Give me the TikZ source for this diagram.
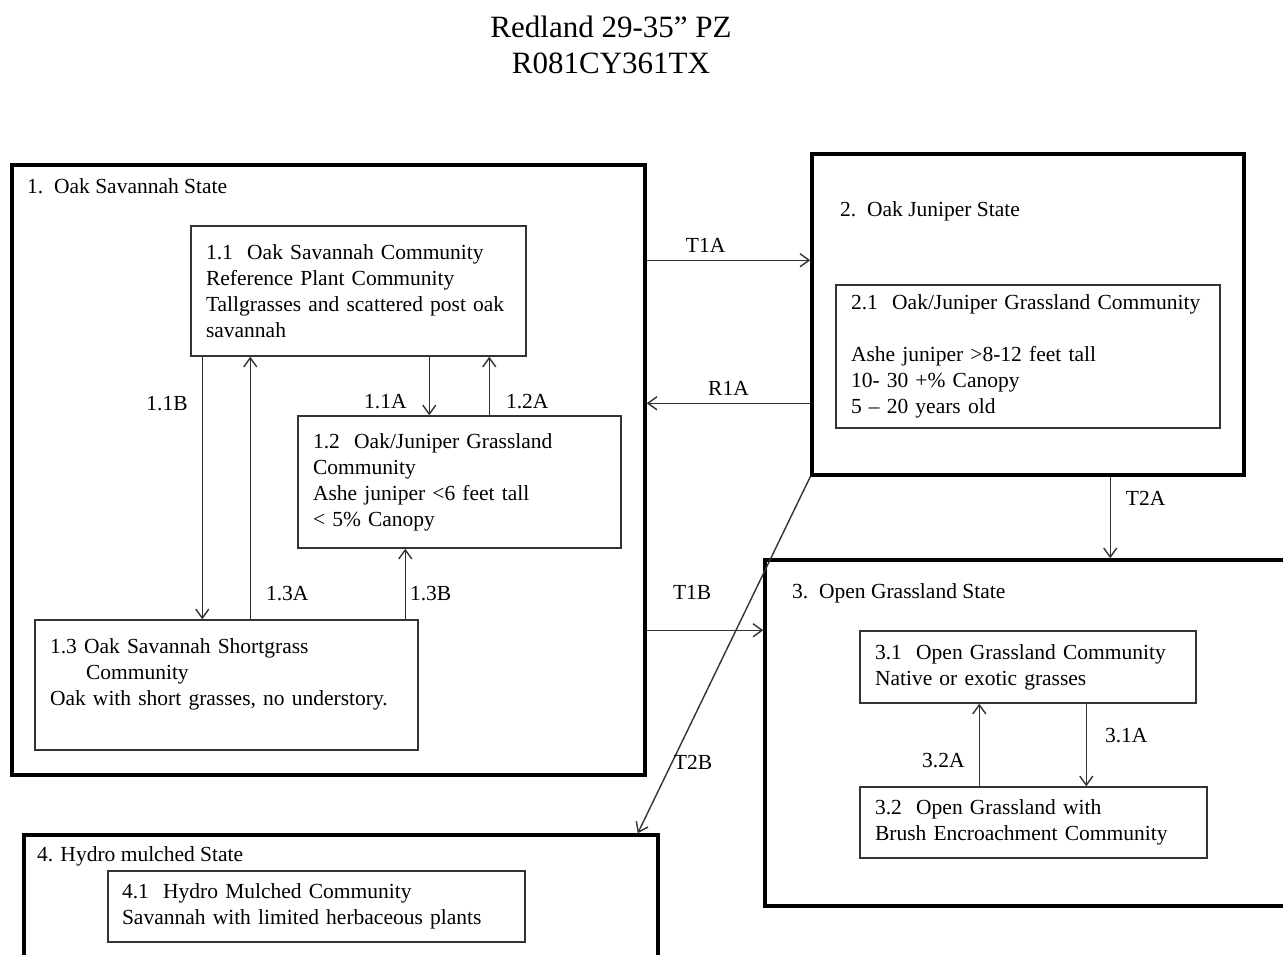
\documentclass[tikz,border=0pt]{standalone}
\usepackage{fontspec}
\setmainfont{Liberation Serif}
\usetikzlibrary{positioning,arrows.meta}
\tikzset{
  statebox/.style={draw=black, line width=3.5pt, inner sep=0pt},
  commbox/.style={draw=black!80, line width=1.4pt, align=left, inner xsep=15pt, inner ysep=0pt, font=\fontsize{21.5}{26}\selectfont},
  statetitle/.style={anchor=west, inner sep=0pt, font=\fontsize{21.5}{26}\selectfont},
  arrow/.style={-{Straight Barb[length=9pt,width=13pt]}, line width=1.4pt, draw=black!80},
  plabel/.style={inner sep=0pt, font=\fontsize{21.5}{26}\selectfont}
}
\begin{document}
\begin{tikzpicture}[x=1pt, y=-1pt]
  \useasboundingbox (0,0) rectangle (1283,954);
  \node[align=center, font=\fontsize{31}{36}\selectfont] (title) at (611,45) {Redland 29-35'' PZ\\R081CY361TX};
  % states
  \node[statebox, minimum width=633pt, minimum height=610pt] (s1) at (328.5,470) {};
  \node[statebox, minimum width=432pt, minimum height=321pt] (s2) at (1028,314.5) {};
  \node[statebox, minimum width=535pt, minimum height=346pt] (s3) at (1032.5,733) {};
  \node[statebox, minimum width=634pt, minimum height=140pt] (s4) at (341,905) {};
  \node[statetitle] (s1t) at (27,186) {1.~~Oak Savannah State};
  \node[statetitle] (s2t) at (840,211) {2.~~Oak Juniper State};
  \node[statetitle] (s3t) at (792,593) {3.~~Open Grassland State};
  \node[statetitle] (s4t) at (37,856) {4. Hydro mulched State};
  % communities
  \node[commbox, text width=305pt, minimum height=130pt] (c11) at (358.5,291) {1.1~~Oak Savannah Community\\Reference Plant Community\\Tallgrasses and scattered post oak\\savannah};
  \node[commbox, text width=293pt, minimum height=132pt] (c12) at (459.5,482) {1.2~~Oak/Juniper Grassland\\Community\\Ashe juniper <6 feet tall\\< 5\% Canopy};
  \node[commbox, text width=353pt, minimum height=130pt] (c13) at (226.5,685) {1.3 Oak Savannah Shortgrass\\\hspace*{36pt}Community\\Oak with short grasses, no understory.\\~};
  \node[commbox, text width=354pt, minimum height=143pt] (c21) at (1028,356.5) {2.1~~Oak/Juniper Grassland Community\\[26pt]Ashe juniper >8-12 feet tall\\10- 30 +\% Canopy\\5 -- 20 years old};
  \node[commbox, text width=306pt, minimum height=72pt] (c31) at (1028,667) {3.1~~Open Grassland Community\\Native or exotic grasses};
  \node[commbox, text width=317pt, minimum height=71pt] (c32) at (1033.5,822.5) {3.2~~Open Grassland with\\Brush Encroachment Community};
  \node[commbox, text width=389pt, minimum height=71pt, inner xsep=14pt] (c41) at (316.5,906.5) {4.1~~Hydro Mulched Community\\Savannah with limited herbaceous plants};
  % pathways inside state 1
  \draw[arrow] ([xshift=12pt]c11.south west) -- node[plabel, pos=0.18, left=14pt] {1.1B} ([xshift=168pt]c13.north west);
  \draw[arrow] ([xshift=216pt]c13.north west) -- node[plabel, pos=0.1, right=15pt] {1.3A} ([xshift=60pt]c11.south west);
  \draw[arrow] ([xshift=239pt]c11.south west) -- node[plabel, pos=0.77, left=22pt] {1.1A} ([xshift=132pt]c12.north west);
  \draw[arrow] ([xshift=192pt]c12.north west) -- node[plabel, pos=0.23, right=16pt] {1.2A} ([xshift=299pt]c11.south west);
  \draw[arrow] ([xshift=371pt]c13.north west) -- node[plabel, pos=0.37, right=4pt] {1.3B} ([xshift=108pt]c12.south west);
  % transitions
  \draw[arrow] ([yshift=-97pt]s1.north east) -- node[plabel, pos=0.36, above=7pt] {T1A} ([yshift=-108pt]s2.north west);
  \draw[arrow] ([yshift=-251pt]s2.north west) -- node[plabel, pos=0.5, above=7pt] {R1A} ([yshift=-240pt]s1.north east);
  \draw[arrow] ([xshift=300pt]s2.south west) -- node[plabel, pos=0.26, right=15pt] {T2A} ([xshift=347pt]s3.north west);
  \draw[arrow] ([yshift=-467pt]s1.north east) -- node[plabel, pos=0.39, above=30pt] {T1B} ([yshift=-72pt]s3.north west);
  \draw[arrow] (s2.south west) -- node[plabel, pos=0.8, right=1pt] {T2B} ([xshift=-22pt]s4.north east);
  % pathways inside state 3
  \draw[arrow] ([xshift=227pt]c31.south west) -- node[plabel, pos=0.39, right=18pt] {3.1A} ([xshift=227pt]c32.north west);
  \draw[arrow] ([xshift=120pt]c32.north west) -- node[plabel, pos=0.31, left=14pt] {3.2A} ([xshift=120pt]c31.south west);
\end{tikzpicture}
\end{document}
